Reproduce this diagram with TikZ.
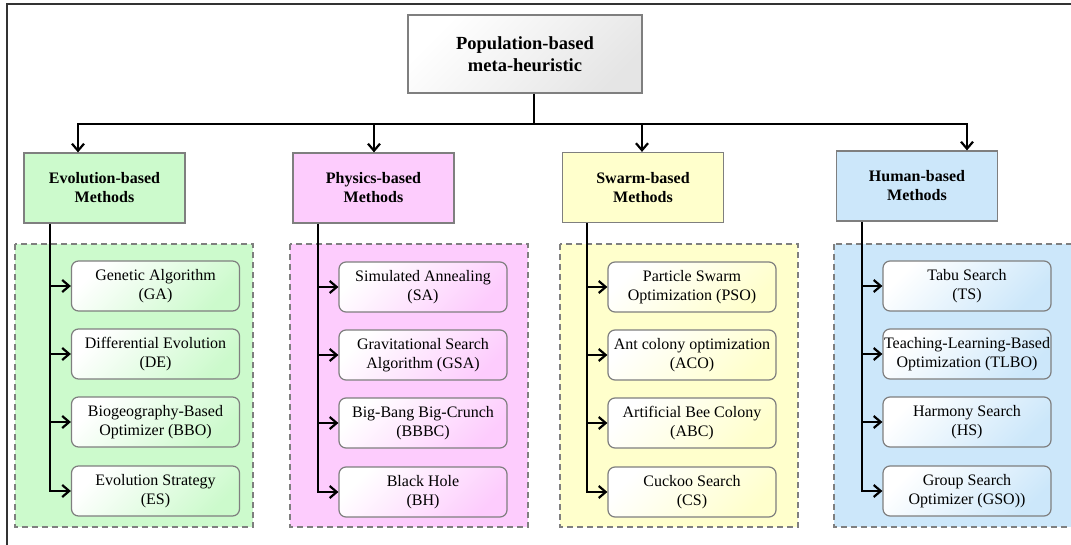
\documentclass[tikz,border=0pt]{standalone}
\usepackage{fontspec}
\setmainfont{Liberation Serif}
\usetikzlibrary{arrows.meta,calc}
\definecolor{evoC}{HTML}{CCFACC}
\definecolor{phyC}{HTML}{FDCCFD}
\definecolor{swaC}{HTML}{FFFFCC}
\definecolor{humC}{HTML}{CCE7FA}
\definecolor{edgeC}{HTML}{7F7F7F}
\begin{document}
\begin{tikzpicture}[x=1pt,y=-1pt,
  frame/.style={draw=black!80, line width=1.5pt},
  topbox/.style={draw=edgeC, line width=1.2pt, top color=white, bottom color=black!10,
    shading angle=45, minimum width=234pt, minimum height=78pt, inner sep=0pt,
    align=center, font=\fontsize{18.5}{22}\selectfont\bfseries},
  catbox/.style={draw=edgeC, line width=1.2pt, minimum width=161pt, minimum height=70pt,
    inner sep=0pt, align=center, font=\fontsize{16}{19}\selectfont\bfseries},
  groupbox/.style={draw=edgeC, line width=1.2pt, dash pattern=on 6pt off 4pt},
  item/.style={draw=edgeC, line width=1.2pt, rounded corners=7pt, minimum width=168pt,
    minimum height=50pt, inner sep=0pt, align=center, font=\fontsize{16}{19}\selectfont},
  evoitem/.style={item, top color=white, bottom color=evoC, shading angle=45},
  phyitem/.style={item, top color=white, bottom color=phyC, shading angle=45},
  swaitem/.style={item, top color=white, bottom color=swaC, shading angle=45},
  humitem/.style={item, top color=white, bottom color=humC, shading angle=45},
  link/.style={draw=black, line width=2.2pt},
  arr/.style={link, -{Straight Barb[length=7pt,width=12pt]}}
]
\useasboundingbox (0,0) rectangle (1071,545);
\fill[white] (0,0) rectangle (1071,545);

% outer frame (only its top and left sides fall on the page)
\draw[frame] (7,560) -- (7,4) -- (1090,4);

% dashed group panels
\filldraw[groupbox, fill=evoC] (15,244) rectangle (253,527);
\filldraw[groupbox, fill=phyC] (290,244) rectangle (528,527);
\filldraw[groupbox, fill=swaC] (560,244) rectangle (798,527);
\filldraw[groupbox, fill=humC] (834,244) rectangle (1090,527);

% root
\node[topbox] (root) at (525,54) {Population-based\\meta-heuristic};

% categories
\node[catbox, fill=evoC] (evo) at (104.5,188) {Evolution-based\\Methods};
\node[catbox, fill=phyC] (phy) at (373.5,188) {Physics-based\\Methods};
\node[catbox, fill=swaC] (swa) at (643,187.5) {Swarm-based\\Methods};
\node[catbox, fill=humC] (hum) at (917,186) {Human-based\\Methods};

% evolution-based methods
\node[evoitem] (e1) at (155.5,286) {Genetic Algorithm\\(GA)};
\node[evoitem] (e2) at (155.5,354) {Differential Evolution\\(DE)};
\node[evoitem] (e3) at (155.5,422) {Biogeography-Based\\Optimizer (BBO)};
\node[evoitem] (e4) at (155.5,491) {Evolution Strategy\\(ES)};

% physics-based methods
\node[phyitem] (p1) at (423,287) {Simulated Annealing\\(SA)};
\node[phyitem] (p2) at (423,355) {Gravitational Search\\Algorithm (GSA)};
\node[phyitem] (p3) at (423,423) {Big-Bang Big-Crunch\\(BBBC)};
\node[phyitem] (p4) at (423,492) {Black Hole\\(BH)};

% swarm-based methods
\node[swaitem] (s1) at (692,287) {Particle Swarm\\Optimization (PSO)};
\node[swaitem] (s2) at (692,355) {Ant colony optimization\\(ACO)};
\node[swaitem] (s3) at (692,423) {Artificial Bee Colony\\(ABC)};
\node[swaitem] (s4) at (692,492) {Cuckoo Search\\(CS)};

% human-based methods
\node[humitem] (h1) at (967,286) {Tabu Search\\(TS)};
\node[humitem] (h2) at (967,354) {Teaching-Learning-Based\\Optimization (TLBO)};
\node[humitem] (h3) at (967,422) {Harmony Search\\(HS)};
\node[humitem] (h4) at (967,491) {Group Search\\Optimizer (GSO))};

% bus from the root to the four categories
\coordinate (drop) at (534,124);
\coordinate (b1) at (78,124);
\coordinate (b2) at (374,124);
\coordinate (b3) at (642,124);
\coordinate (b4) at (967,124);
\draw[link] (root.south -| drop) -- (drop);
\draw[link, line cap=rect] (b1) -- (b4);
\draw[arr] (b1) -- (evo.north -| b1);
\draw[arr] (b2) -- (phy.north -| b2);
\draw[arr] (b3) -- (swa.north -| b3);
\draw[arr] (b4) -- (hum.north -| b4);

% spines from each category to its methods
\coordinate (evoS) at (50,0);
\coordinate (phyS) at (318,0);
\coordinate (swaS) at (587,0);
\coordinate (humS) at (862,0);

\draw[arr] (evo.south -| evoS) |- (e4.west);
\foreach \n in {e1,e2,e3} \draw[arr] (\n.west -| evoS) -- (\n.west);
\draw[arr] (phy.south -| phyS) |- (p4.west);
\foreach \n in {p1,p2,p3} \draw[arr] (\n.west -| phyS) -- (\n.west);
\draw[arr] (swa.south -| swaS) |- (s4.west);
\foreach \n in {s1,s2,s3} \draw[arr] (\n.west -| swaS) -- (\n.west);
\draw[arr] (hum.south -| humS) |- (h4.west);
\foreach \n in {h1,h2,h3} \draw[arr] (\n.west -| humS) -- (\n.west);
\end{tikzpicture}
\end{document}
